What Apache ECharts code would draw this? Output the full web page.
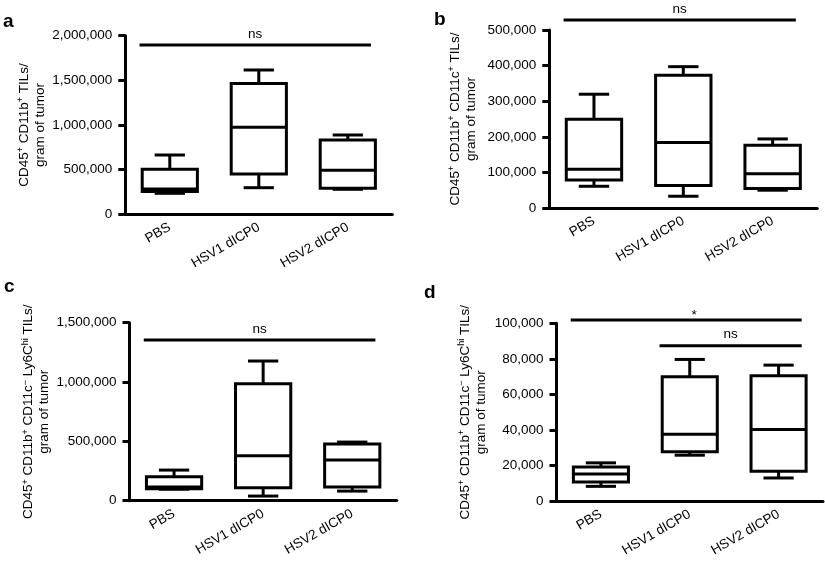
<!DOCTYPE html>
<html><head><meta charset="utf-8">
<script src="https://cdn.jsdelivr.net/npm/echarts@6/dist/echarts.min.js"></script>
<style>html,body{margin:0;padding:0;background:#fff}#c{width:825px;height:562px}</style>
</head><body><div id="c"></div>
<script>
const categories = ['PBS', 'HSV1 dICP0', 'HSV2 dICP0'];
// each box: [min, Q1, median, Q3, max]
const boxesA = [[235000, 254000, 284000, 504000, 664000], [298000, 451000, 974000, 1466000, 1616000], [280000, 291000, 493000, 832000, 888000]];
const boxesB = [[61000, 79000, 109000, 249500, 319600], [33000, 63500, 184000, 373000, 397000], [50000, 55000, 96000, 176000, 194000]];
const boxesC = [[97000, 101000, 116000, 202000, 258000], [39000, 110000, 379000, 986000, 1177000], [81000, 115000, 343000, 478000, 494000]];
const boxesD = [[8400, 10900, 15400, 19300, 21600], [25900, 27800, 37700, 70000, 79700], [13100, 16900, 40300, 70500, 76500]];
// significance bars: [fromCategory, toCategory, yValue, label]
const sigA = [[0, 2, 1896000, 'ns']];
const sigB = [[0, 2, 528000, 'ns']];
const sigC = [[0, 2, 1354000, 'ns']];
const sigD = [[0, 2, 101900, '*'], [1, 2, 87400, 'ns']];
const yMaxA = 2000000, yStepA = 500000;
const yMaxB = 500000, yStepB = 100000;
const yMaxC = 1500000, yStepC = 500000;
const yMaxD = 100000, yStepD = 20000;
const titleA = 'CD45{s|+} CD11b{s|+} TILs/\ngram of tumor';
const titleB = 'CD45{s|+} CD11b{s|+} CD11c{s|+} TILs/\ngram of tumor';
const titleC = 'CD45{s|+} CD11b{s|+} CD11c{s|\u2212} Ly6C{s|hi} TILs/\ngram of tumor';
const titleD = 'CD45{s|+} CD11b{s|+} CD11c{s|\u2212} Ly6C{s|hi} TILs/\ngram of tumor';
const panelLetters = ['a', 'b', 'c', 'd'];

const FONT = '"Liberation Sans", Arial, Helvetica, sans-serif';
const LW = 3;
const chart = echarts.init(document.getElementById('c'), null, {renderer: 'canvas'});

const grids = [
  {left: 125.3, right: 432.7, top: 35.7, bottom: 347.7},
  {left: 549.3, right: 7.7, top: 30, bottom: 354},
  {left: 129.5, right: 428.2, top: 322.7, bottom: 61.3},
  {left: 556.5, right: 2, top: 323.3, bottom: 60.7}
];
const nameGaps = [70.5, 70.5, 75, 67];
const yMaxes = [yMaxA, yMaxB, yMaxC, yMaxD];
const ySteps = [yStepA, yStepB, yStepC, yStepD];
const titles = [titleA, titleB, titleC, titleD];
const boxes = [boxesA, boxesB, boxesC, boxesD];
const sigs = [sigA, sigB, sigC, sigD];

function fmt(v) { return String(v).replace(/\B(?=(\d{3})+(?!\d))/g, ','); }

function boxRender(params, api) {
  const x = api.value(0);
  const c = api.coord([x, 0])[0];
  const band = api.size([1, 0])[0];
  const y = [1, 2, 3, 4, 5].map(i => api.coord([x, api.value(i)])[1]);
  const bw = band * 0.62, cw = band * 0.34;
  const st = {stroke: '#000', lineWidth: LW, fill: null};
  return {type: 'group', children: [
    {type: 'line', shape: {x1: c, y1: y[3], x2: c, y2: y[4]}, style: st},
    {type: 'line', shape: {x1: c - cw / 2, y1: y[4], x2: c + cw / 2, y2: y[4]}, style: st},
    {type: 'line', shape: {x1: c, y1: y[1], x2: c, y2: y[0]}, style: st},
    {type: 'line', shape: {x1: c - cw / 2, y1: y[0], x2: c + cw / 2, y2: y[0]}, style: st},
    {type: 'rect', shape: {x: c - bw / 2, y: y[3], width: bw, height: y[1] - y[3]}, style: {stroke: '#000', lineWidth: LW, fill: '#fff'}},
    {type: 'line', shape: {x1: c - bw / 2, y1: y[2], x2: c + bw / 2, y2: y[2]}, style: st}
  ]};
}

function makeSigRender(list) {
  return function (params, api) {
    const band = api.size([1, 0])[0];
    const x1 = api.coord([api.value(0), 0])[0] - band * 0.34;
    const x2 = api.coord([api.value(1), 0])[0] + band * 0.26;
    const yy = api.coord([0, api.value(2)])[1];
    const lab = list[params.dataIndex][3];
    const star = lab === '*';
    return {type: 'group', children: [
      {type: 'line', shape: {x1: x1, y1: yy, x2: x2, y2: yy}, style: {stroke: '#000', lineWidth: 3}},
      {type: 'text', x: (x1 + x2) / 2 + (star ? 8 : 0), y: yy - (star ? -2 : 4), style: {text: lab, font: '13.5px ' + FONT, fill: '#000', align: 'center', verticalAlign: 'bottom'}}
    ]};
  };
}

const xAxis = [], yAxis = [], series = [];
for (let i = 0; i < 4; i++) {
  xAxis.push({
    type: 'category', gridIndex: i, data: categories,
    axisLine: {lineStyle: {color: '#000', width: LW}},
    axisTick: {alignWithLabel: true, length: 7, lineStyle: {width: LW, color: '#000'}},
    axisLabel: {rotate: 30, margin: 12, fontSize: 13.5, color: '#000', fontFamily: FONT, interval: 0}
  });
  yAxis.push({
    type: 'value', gridIndex: i, min: 0, max: yMaxes[i], interval: ySteps[i],
    splitLine: {show: false},
    axisLine: {show: true, lineStyle: {color: '#000', width: LW}},
    axisTick: {show: true, length: 7, lineStyle: {width: LW, color: '#000'}},
    axisLabel: {margin: 13, fontSize: 13.5, color: '#000', fontFamily: FONT, formatter: fmt},
    name: titles[i], nameLocation: 'middle', nameRotate: 90, nameGap: nameGaps[i],
    nameTextStyle: {fontSize: 13.5, color: '#000', fontFamily: FONT, lineHeight: 16,
      rich: {s: {fontSize: 9, color: '#000', fontFamily: FONT, verticalAlign: 'top', lineHeight: 10}}}
  });
  series.push({
    type: 'custom', xAxisIndex: i, yAxisIndex: i, clip: false,
    renderItem: boxRender,
    encode: {x: 0, y: [1, 2, 3, 4, 5]},
    data: boxes[i].map((b, k) => [k].concat(b)),
    silent: true, animation: false
  });
  series.push({
    type: 'custom', xAxisIndex: i, yAxisIndex: i, clip: false,
    renderItem: makeSigRender(sigs[i]),
    encode: {x: [0, 1], y: 2},
    data: sigs[i].map(s => [s[0], s[1], s[2]]),
    silent: true, animation: false
  });
}

const letterPos = [[3, 12], [434, 10], [4, 277], [424, 283]];
chart.setOption({
  animation: false,
  backgroundColor: '#fff',
  grid: grids,
  xAxis: xAxis,
  yAxis: yAxis,
  series: series,
  graphic: panelLetters.map((t, i) => ({
    type: 'text', left: letterPos[i][0], top: letterPos[i][1],
    style: {text: t, font: 'bold 19px ' + FONT, fill: '#000'}
  }))
});
</script>
</body></html>
